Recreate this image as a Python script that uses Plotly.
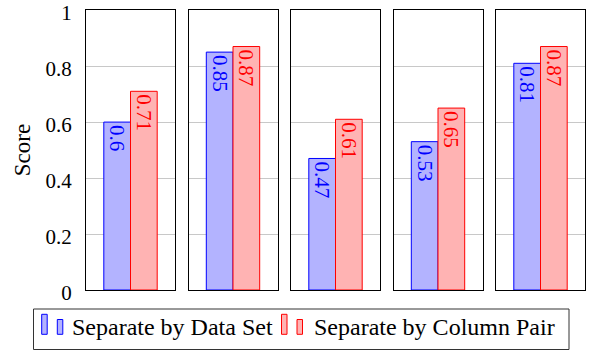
import plotly.graph_objects as go
from plotly.subplots import make_subplots

# ---- data ----
groups = ["Group 1", "Group 2", "Group 3", "Group 4", "Group 5"]
series_names = ["Separate by Data Set", "Separate by Column Pair"]
data_set_scores = [0.6, 0.85, 0.47, 0.53, 0.81]
column_pair_scores = [0.71, 0.87, 0.61, 0.65, 0.87]
y_ticks = [0, 0.2, 0.4, 0.6, 0.8, 1]
y_title = "Score"

# ---- style ----
W, H = 608, 359
L, R, T, B = 86, 23, 10, 69
PW, PH = W - L - R, H - T - B
FONT = "Liberation Serif"
blue_fill, blue_line = "#b3b3ff", "#0000ff"
red_fill, red_line = "#ffb3b3", "#ff0000"


def px(xp):
    return (xp - L) / PW


def py(yp):
    return (H - B - yp) / PH


n = len(groups)
fig = make_subplots(rows=1, cols=n, shared_yaxes=True,
                    horizontal_spacing=13.5 / PW)

for i, g in enumerate(groups):
    for vals, name, fill, line in [
        (data_set_scores, series_names[0], blue_fill, blue_line),
        (column_pair_scores, series_names[1], red_fill, red_line),
    ]:
        fig.add_trace(go.Bar(
            x=[g], y=[vals[i]], name=name, showlegend=False,
            marker=dict(color=fill, line=dict(color=line, width=1)),
            texttemplate="%{y}", textposition="inside",
            insidetextanchor="end", textangle=90,
            textfont=dict(family=FONT, size=21, color=line),
            cliponaxis=False,
        ), row=1, col=i + 1)

fig.update_layout(
    width=W, height=H, margin=dict(l=L, r=R, t=T, b=B, autoexpand=False),
    plot_bgcolor="white", paper_bgcolor="white",
    barmode="group", bargap=0.4, bargroupgap=0,
    font=dict(family=FONT, size=21, color="black"),
    uniformtext=dict(minsize=21, mode="show"),
)
fig.update_xaxes(showticklabels=False, showgrid=False, showline=True,
                 linecolor="black", linewidth=1, mirror=True, ticks="",
                 automargin=False)
fig.update_yaxes(range=[0, 1.0005], tickvals=y_ticks, showgrid=True,
                 gridcolor="#c8c8c8", gridwidth=1, showline=True,
                 linecolor="black", linewidth=1, mirror=True, ticks="",
                 zeroline=False, ticklabelstandoff=9, automargin=False,
                 ticklabeloverflow="allow", ticklabelshift=3,
                 tickfont=dict(family=FONT, size=21))
fig.update_yaxes(title=dict(text=y_title, standoff=8,
                            font=dict(family=FONT, size=23)), row=1, col=1)

# ---- custom legend ----
shapes = [dict(type="rect", xref="paper", yref="paper",
               x0=px(33.5), x1=px(569), y0=py(309), y1=py(349.5),
               line=dict(color="#333333", width=1), fillcolor="white")]
legend_items = [
    (41.7, 57.3, 69.5, series_names[0], blue_fill, blue_line),
    (281.5, 297.0, 311.5, series_names[1], red_fill, red_line),
]
for x1, x2, xt, name, fill, line in legend_items:
    shapes.append(dict(type="rect", xref="paper", yref="paper",
                       x0=px(x1), x1=px(x1 + 5.5), y0=py(334.3), y1=py(314.3),
                       line=dict(color=line, width=1), fillcolor=fill))
    shapes.append(dict(type="rect", xref="paper", yref="paper",
                       x0=px(x2), x1=px(x2 + 5.5), y0=py(334.3), y1=py(319.5),
                       line=dict(color=line, width=1), fillcolor=fill))
    fig.add_annotation(xref="paper", yref="paper", x=px(xt), y=py(327),
                       xanchor="left", yanchor="middle", showarrow=False,
                       text=name, font=dict(family=FONT, size=24, color="black"))
fig.update_layout(shapes=shapes)

fig.write_html("out.html", config={"displayModeBar": False},
               post_script="document.body.style.margin='0';")
